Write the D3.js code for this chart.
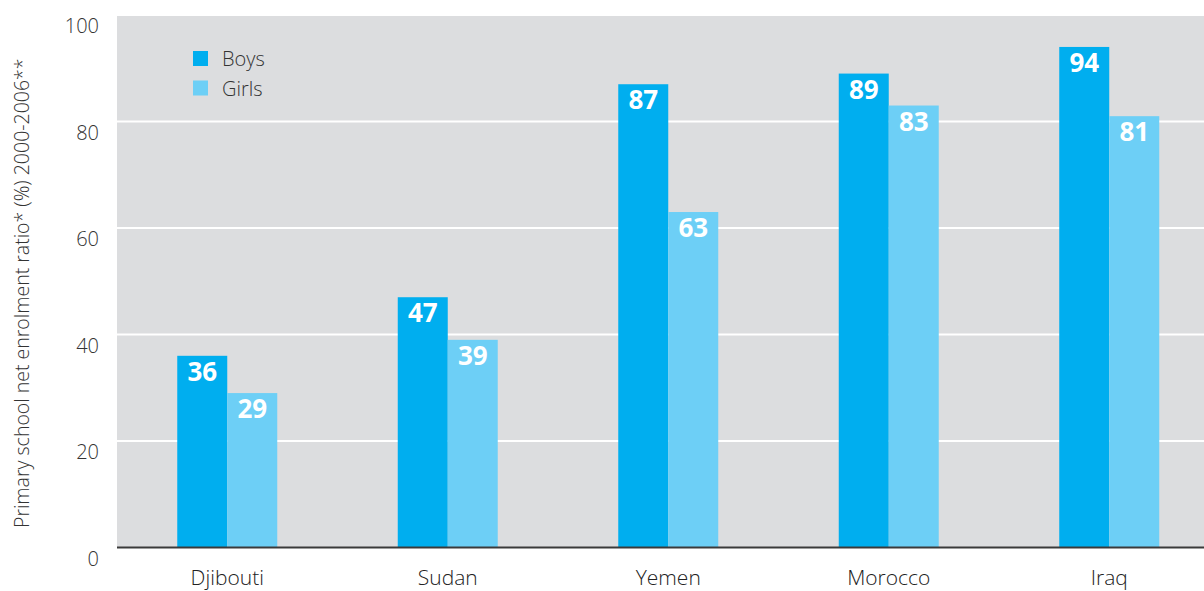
<!DOCTYPE html>
<html>
<head>
<meta charset="utf-8">
<script src="https://cdn.jsdelivr.net/npm/d3@7"></script>
<style>
  html, body { margin: 0; padding: 0; background: #fff; }
  svg { display: block; font-family: "Open Sans", "Noto Sans", sans-serif; }
</style>
</head>
<body>
<svg id="chart" width="1204" height="591"></svg>
<script>
// Primary school net enrolment ratio by sex
const countries = ["Djibouti", "Sudan", "Yemen", "Morocco", "Iraq"];
const boys  = [36, 47, 87, 89, 94];
const girls = [29, 39, 63, 83, 81];
const seriesNames = ["Boys", "Girls"];
const seriesColors = ["#00aeef", "#6dcff6"];
const yTicks = [0, 20, 40, 60, 80, 100];
const yTitle = "Primary school net enrolment ratio* (%) 2000-2006**";

const W = 1204, H = 591;
const margin = { left: 117, top: 15, right: -15.5, bottom: 43 };
const svg = d3.select("#chart");

const x0 = d3.scaleBand()
  .domain(countries)
  .range([margin.left, W - margin.right])
  .paddingInner(0.5465)
  .paddingOuter(0.5465 / 2);
const x1 = d3.scaleBand().domain(seriesNames).range([0, x0.bandwidth()]);
const y = d3.scaleLinear().domain([0, 100]).range([H - margin.bottom - 0.5, margin.top]);

// plot background
svg.append("rect")
  .attr("x", margin.left).attr("y", y(100) + 1)
  .attr("width", W - margin.left).attr("height", y(0) - y(100) - 1)
  .attr("fill", "#dcdddf");

// horizontal gridlines
svg.append("g").selectAll("line")
  .data(yTicks.filter(d => d > 0 && d < 100))
  .join("line")
  .attr("x1", margin.left).attr("x2", W)
  .attr("y1", d => y(d)).attr("y2", d => y(d))
  .attr("stroke", "#ffffff").attr("stroke-width", 2);

// y tick labels
svg.append("g").selectAll("text")
  .data(yTicks)
  .join("text")
  .attr("x", 99).attr("y", d => y(d) + 18)
  .attr("text-anchor", "end")
  .attr("font-size", 20).attr("font-weight", 300)
  .attr("fill", "#333")
  .text(d => d);

// y axis title
svg.append("text")
  .attr("transform", `translate(29, ${(y(0) + y(100)) / 2 + 12}) rotate(-90)`)
  .attr("text-anchor", "middle")
  .attr("font-size", 19.5).attr("font-weight", 300)
  .attr("fill", "#333")
  .text(yTitle);

const rows = countries.map((c, i) => ({ country: c, values: [boys[i], girls[i]] }));

const groups = svg.append("g").selectAll("g")
  .data(rows)
  .join("g")
  .attr("transform", d => `translate(${x0(d.country)},0)`);

const bars = groups.selectAll("g")
  .data(d => d.values.map((v, k) => ({ key: seriesNames[k], value: v, k })))
  .join("g");

bars.append("rect")
  .attr("x", d => x1(d.key))
  .attr("y", d => y(d.value))
  .attr("width", x1.bandwidth())
  .attr("height", d => y(0) - y(d.value))
  .attr("fill", d => seriesColors[d.k]);

bars.append("text")
  .attr("x", d => x1(d.key) + x1.bandwidth() / 2)
  .attr("y", d => y(d.value) + 25)
  .attr("text-anchor", "middle")
  .attr("font-size", 26).attr("font-weight", 700)
  .attr("fill", "#ffffff")
  .text(d => d.value);

// baseline axis
svg.append("line")
  .attr("x1", margin.left).attr("x2", W)
  .attr("y1", y(0)).attr("y2", y(0))
  .attr("stroke", "#3a3a3a").attr("stroke-width", 2);

// category labels
svg.append("g").selectAll("text")
  .data(countries)
  .join("text")
  .attr("x", d => x0(d) + x0.bandwidth() / 2)
  .attr("y", 585)
  .attr("text-anchor", "middle")
  .attr("font-size", 21).attr("font-weight", 300)
  .attr("fill", "#222")
  .text(d => d);

// legend
const legend = svg.append("g").attr("transform", "translate(193,51)");
const items = legend.selectAll("g")
  .data(seriesNames)
  .join("g")
  .attr("transform", (d, i) => `translate(0, ${i * 29.5})`);
items.append("rect")
  .attr("width", 15).attr("height", 15)
  .attr("fill", (d, i) => seriesColors[i]);
items.append("text")
  .attr("x", 29).attr("y", 15)
  .attr("font-size", 20).attr("font-weight", 300)
  .attr("fill", "#333")
  .text(d => d);
</script>
</body>
</html>
